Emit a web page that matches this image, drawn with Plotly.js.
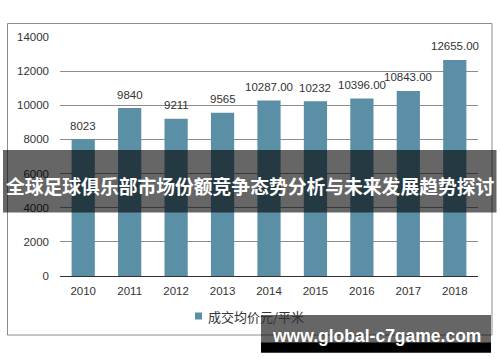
<!DOCTYPE html>
<html>
<head>
<meta charset="utf-8">
<script src="https://cdn.plot.ly/plotly-3.0.1.min.js"></script>
<style>html,body{margin:0;padding:0;background:#fff;}#chart{width:500px;height:362px;}</style>
</head>
<body>
<div id="chart"></div>
<script>
// ---- data ----
const categories = ['2010','2011','2012','2013','2014','2015','2016','2017','2018'];
const values = [8023, 9840, 9211, 9565, 10287, 10232, 10396, 10843, 12655];
const valueLabels = ['8023','9840','9211','9565','10287.00','10232','10396.00','10843.00','12655.00'];
const seriesName = '成交均价元/平米';
const yTicks = [0, 2000, 4000, 6000, 8000, 10000, 12000, 14000];
const bannerText = '全球足球俱乐部市场份额竞争态势分析与未来发展趋势探讨';
const watermarkText = 'www.global-c7game.com';

// ---- layout geometry (pixels) ----
const W = 500, H = 362;
const mL = 60, mR = 22, mT = 37, mB = 86;
const pw = W - mL - mR, ph = H - mT - mB;
const px = x => (x - mL) / pw;
const py = y => (H - mB - y) / ph;

const barColor = '#5b8fa6';
const font = 'Liberation Sans, Arial, sans-serif';
const cjk = 'Noto Sans CJK SC, sans-serif';

const trace = {
  type: 'bar',
  x: categories,
  y: values,
  name: seriesName,
  marker: {color: barColor},
  width: 0.5,
  hoverinfo: 'none',
  showlegend: false
};

// category axes take the category's serial number for annotations
const labelAnnotations = categories.map((c, i) => ({
  x: i, y: values[i], xref: 'x', yref: 'y',
  text: valueLabels[i], showarrow: false,
  yanchor: 'middle', yshift: 13.5,
  font: {family: font, size: 11.5, color: '#333'}
}));

const layout = {
  width: W, height: H,
  margin: {l: mL, r: mR, t: mT, b: mB, pad: 0},
  paper_bgcolor: '#fff', plot_bgcolor: '#fff',
  showlegend: false,
  xaxis: {
    type: 'category',
    range: [-0.5, categories.length - 0.5],
    showgrid: false, zeroline: false, showline: false,
    ticks: '', ticklabelstandoff: 6,
    tickfont: {family: font, size: 11.5, color: '#333'}
  },
  yaxis: {
    range: [0, 14000],
    tickvals: yTicks,
    ticktext: yTicks.map(String),
    showgrid: true, gridcolor: '#8c8c8c', gridwidth: 1,
    zeroline: true, zerolinecolor: '#333', zerolinewidth: 1,
    showline: false, ticks: '', ticklabelstandoff: 10,
    tickfont: {family: font, size: 11.5, color: '#333'}
  },
  shapes: [
    {type: 'rect', xref: 'paper', yref: 'paper', layer: 'below',
     x0: px(7.5), x1: px(492), y0: py(335), y1: py(23.5),
     line: {color: '#8c8c8c', width: 1}, fillcolor: 'rgba(0,0,0,0)'},
    {type: 'rect', xref: 'paper', yref: 'paper', layer: 'above',
     x0: px(3), x1: px(496.5), y0: py(212.5), y1: py(150),
     line: {width: 0}, fillcolor: 'rgba(0,0,0,0.6)'},
    {type: 'rect', xref: 'paper', yref: 'paper', layer: 'above',
     x0: px(261), x1: px(491), y0: py(342.3), y1: py(315),
     line: {width: 0}, fillcolor: 'rgba(0,0,0,0.6)'},
    {type: 'rect', xref: 'paper', yref: 'paper', layer: 'above',
     x0: px(261), x1: px(491), y0: py(352.7), y1: py(342.3),
     line: {width: 0}, fillcolor: '#000'},
    {type: 'rect', xref: 'paper', yref: 'paper', layer: 'above',
     x0: px(195), x1: px(202), y0: py(319.5), y1: py(312.5),
     line: {width: 0}, fillcolor: barColor}
  ],
  annotations: labelAnnotations.concat([
    {xref: 'paper', yref: 'paper', x: px(206), y: py(316),
     xanchor: 'left', yanchor: 'middle', showarrow: false,
     text: seriesName, font: {family: cjk, size: 13, color: '#333'}},
    {xref: 'paper', yref: 'paper', x: px(250), y: py(185),
     xanchor: 'center', yanchor: 'middle', showarrow: false,
     text: '<b>' + bannerText + '</b>',
     font: {family: cjk, size: 18.8, color: '#fff'}},
    {xref: 'paper', yref: 'paper', x: px(376), y: py(335.5),
     xanchor: 'center', yanchor: 'middle', showarrow: false,
     text: '<b>' + watermarkText + '</b>',
     font: {family: font, size: 17.5, color: '#fff'}}
  ])
};

Plotly.newPlot('chart', [trace], layout, {displayModeBar: false, staticPlot: true});
</script>
</body>
</html>
